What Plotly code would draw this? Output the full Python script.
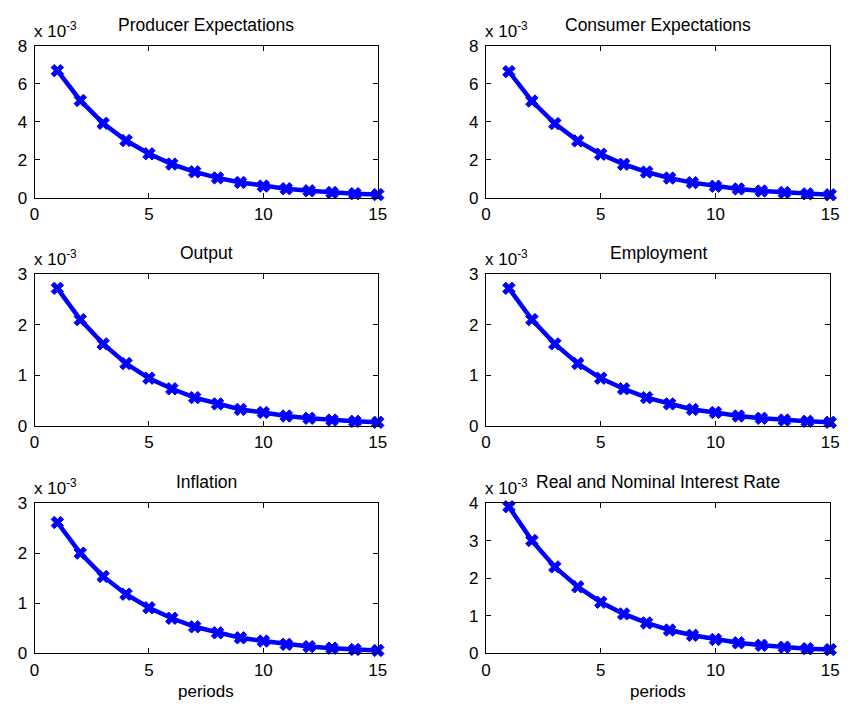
import plotly.graph_objects as go

periods = list(range(1, 16))

titles = ["Producer Expectations", "Consumer Expectations", "Output",
          "Employment", "Inflation", "Real and Nominal Interest Rate"]

# values in units of 1e-3
producer = [6.70, 5.13, 3.93, 3.02, 2.32, 1.78, 1.37, 1.05, 0.81, 0.62, 0.48, 0.37, 0.28, 0.22, 0.17]
consumer = [6.65, 5.10, 3.91, 3.00, 2.30, 1.77, 1.36, 1.04, 0.80, 0.61, 0.47, 0.36, 0.28, 0.21, 0.16]
output = [2.72, 2.10, 1.62, 1.23, 0.94, 0.73, 0.555, 0.43, 0.32, 0.26, 0.19, 0.145, 0.11, 0.085, 0.065]
employment = [2.72, 2.10, 1.62, 1.23, 0.94, 0.73, 0.555, 0.43, 0.32, 0.26, 0.19, 0.145, 0.11, 0.085, 0.065]
inflation = [2.61, 2.00, 1.535, 1.18, 0.91, 0.70, 0.53, 0.41, 0.31, 0.245, 0.18, 0.135, 0.103, 0.077, 0.058]
interest = [3.90, 3.00, 2.30, 1.77, 1.36, 1.05, 0.81, 0.62, 0.48, 0.37, 0.28, 0.215, 0.165, 0.125, 0.10]

series = [producer, consumer, output, employment, inflation, interest]
y_max = [8, 8, 3, 3, 3, 4]
y_dtick = [2, 2, 1, 1, 1, 1]
x_ticks = [0, 5, 10, 15]
scale_label = "x 10<sup>-3</sup>"
x_label = "periods"

W, H = 852, 713
col_px = [(30, 379), (489, 839)]
row_px = [(38, 194), (272.5, 428), (507.5, 662)]

FONT = "Liberation Sans, Arial, Helvetica, sans-serif"
FS = 17

fig = go.Figure()
layout = dict(
    width=W, height=H,
    margin=dict(l=0, r=0, t=0, b=0),
    paper_bgcolor="white", plot_bgcolor="white",
    showlegend=False,
    font=dict(family=FONT, size=FS, color="black"),
)
annotations = []

for i, (vals, title) in enumerate(zip(series, titles)):
    r, c = divmod(i, 2)
    ax = "" if i == 0 else str(i + 1)
    xa = "xaxis" + ax
    ya = "yaxis" + ax
    x0, x1 = col_px[c]
    t0, t1 = row_px[r]
    fig.add_trace(go.Scatter(
        x=periods, y=vals, mode="lines+markers",
        xaxis="x" + ax, yaxis="y" + ax,
        line=dict(color="#0000FF", width=4.5),
        marker=dict(symbol="x", size=11, color="#0000FF",
                    line=dict(width=1, color="#0000FF")),
        cliponaxis=False,
    ))
    common = dict(showgrid=False, zeroline=False, showline=True, linecolor="black",
                  linewidth=1, mirror="ticks", ticks="inside", ticklen=5,
                  tickcolor="black", tickwidth=1,
                  tickfont=dict(family=FONT, size=FS, color="black"))
    layout[xa] = dict(domain=[x0 / W, x1 / W], range=[0, 15], tickvals=x_ticks,
                      anchor="y" + ax, fixedrange=True, ticklabelstandoff=1, **common)
    layout[ya] = dict(domain=[1 - t1 / H, 1 - t0 / H], range=[0, y_max[i]],
                      dtick=y_dtick[i], tick0=0, anchor="x" + ax,
                      fixedrange=True, ticklabelstandoff=3, **common)
    annotations.append(dict(
        text=title, xref="x" + ax + " domain", yref="y" + ax + " domain",
        x=0.5, y=1, yshift=9, xanchor="center", yanchor="bottom",
        showarrow=False, font=dict(family=FONT, size=FS + 0.5, color="black")))
    annotations.append(dict(
        text=scale_label, xref="x" + ax + " domain", yref="y" + ax + " domain",
        x=0, y=1, xshift=-3, yshift=3, xanchor="left", yanchor="bottom",
        showarrow=False, font=dict(family=FONT, size=FS, color="black")))
    if r == 2:
        annotations.append(dict(
            text=x_label, xref="x" + ax + " domain", yref="y" + ax + " domain",
            x=0.5, y=0, yshift=-27, xanchor="center", yanchor="top",
            showarrow=False, font=dict(family=FONT, size=FS, color="black")))

layout["annotations"] = annotations
fig.update_layout(**layout)
fig.write_html("out.html",
               config={"displayModeBar": False},
               post_script="document.body.style.margin='0px';document.body.style.overflow='hidden';")
